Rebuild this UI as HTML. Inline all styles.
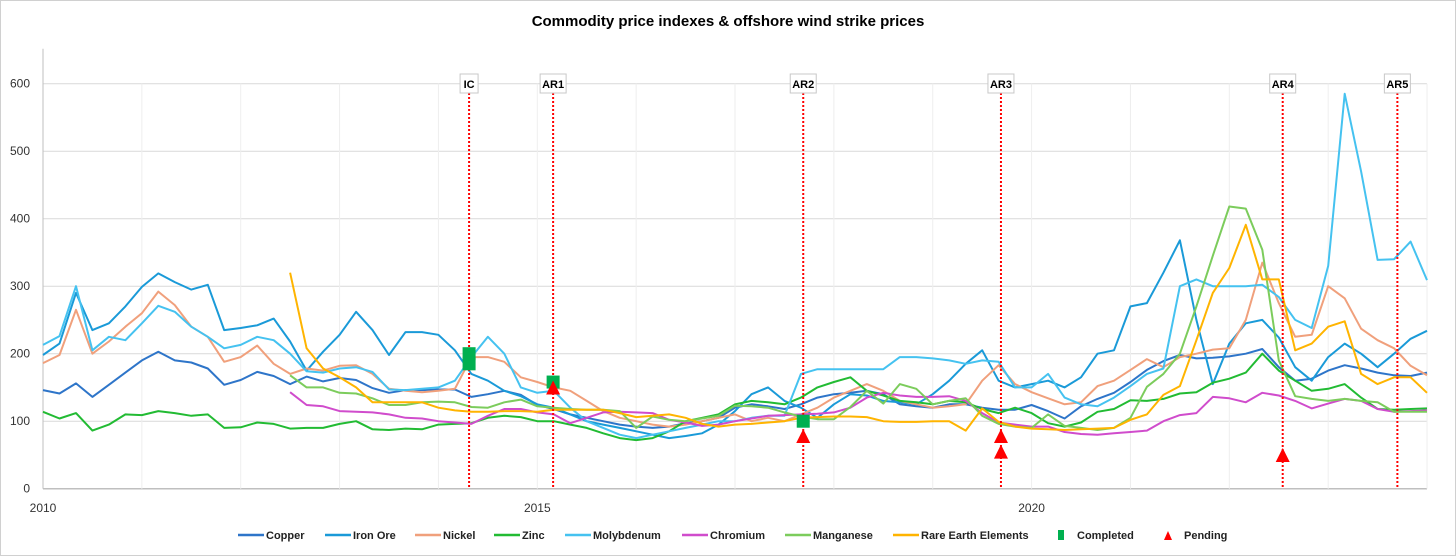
<!DOCTYPE html>
<html><head><meta charset="utf-8"><style>
body{margin:0;background:#fff;}
svg{display:block;font-family:"Liberation Sans",Arial,sans-serif;}
</style></head><body>
<svg id="chart" width="1456" height="556" viewBox="0 0 1456 556">
<rect x="0.5" y="0.5" width="1455" height="555" fill="#fff" stroke="#d0d0d0"/>
<text x="728" y="26" text-anchor="middle" font-size="15" font-weight="bold" fill="#000">Commodity price indexes &amp; offshore wind strike prices</text>
<g id="grid"></g><g id="series"></g><g id="events"></g><g id="legend"></g>
</svg>
<script>
const yTicks=[0,100,200,300,400,500,600];
const xTickYears=[2010,2015,2020];
const copper=[146,141,156,136,154,172,190,203,190,187,178,154,161,173,167,155,166,159,164,161,149,142,146,146,147,147,136,140,145,139,124,118,110,105,100,95,92,90,92,97,100,105,120,125,122,118,125,135,140,142,145,140,125,122,120,125,125,120,117,117,124,115,104,122,133,142,158,176,189,198,193,194,196,200,207,180,160,163,175,183,178,172,168,167,172];
const ironOre=[198,215,290,235,245,270,299,319,306,295,302,235,238,242,252,218,175,203,228,262,235,198,232,232,228,205,170,160,145,137,125,120,110,100,95,90,85,80,75,78,82,95,115,140,150,130,120,105,125,140,138,130,128,125,140,160,185,205,160,150,155,160,150,165,200,205,270,275,320,368,250,155,215,245,250,224,180,160,195,215,200,180,200,222,234];
const nickel=[186,198,265,200,218,240,260,292,272,240,225,188,195,212,185,170,178,175,182,183,170,148,145,143,145,148,195,195,188,165,158,150,145,130,115,105,100,95,92,95,100,105,110,100,105,100,110,120,135,145,155,145,130,125,120,122,125,160,183,155,143,134,125,128,152,160,176,192,180,195,200,206,208,250,335,275,225,228,300,282,237,220,208,182,168];
const zinc=[114,104,112,86,95,110,109,115,112,108,110,90,91,98,96,89,90,90,96,100,88,87,89,88,95,96,97,105,108,106,100,100,95,90,82,75,72,75,85,100,105,110,125,130,128,125,135,150,158,165,145,138,130,128,125,130,128,118,112,120,112,97,92,98,114,118,131,130,133,141,143,157,163,172,200,175,160,145,148,155,135,118,117,118,119];
const molybdenum=[213,226,300,205,225,220,245,271,262,240,225,208,213,225,220,200,174,172,178,180,173,147,146,148,150,160,195,225,200,150,142,145,120,100,90,80,75,80,85,90,95,100,100,105,108,108,170,177,177,177,177,177,195,195,193,190,185,190,188,150,150,170,135,125,122,135,152,170,178,300,310,300,300,300,302,284,250,238,330,585,470,339,340,366,309];
const chromium=[null,null,null,null,null,null,null,null,null,null,null,null,null,null,null,143,124,122,115,114,113,110,105,104,100,98,96,108,118,118,113,110,97,105,113,114,113,112,102,98,93,95,100,104,108,109,110,111,113,120,135,142,138,136,136,137,130,112,98,95,92,92,84,81,80,82,84,86,100,109,112,136,134,128,142,138,130,119,126,133,130,118,114,115,116];
const manganese=[null,null,null,null,null,null,null,null,null,null,null,null,null,null,null,168,150,150,142,141,134,124,124,128,129,128,121,120,128,132,122,120,118,117,117,115,90,107,102,100,104,108,123,122,120,113,107,103,103,121,145,126,155,148,125,130,134,108,96,92,90,110,93,90,87,90,105,151,170,200,270,345,418,415,354,190,137,133,130,133,130,128,114,114,114];
const rareEarth=[null,null,null,null,null,null,null,null,null,null,null,null,null,null,null,320,208,178,165,150,128,128,128,128,120,116,114,114,115,115,114,117,117,117,117,112,106,108,110,105,96,92,95,96,98,100,105,106,107,107,106,100,99,99,100,100,86,119,99,92,89,88,87,88,89,90,102,110,139,152,220,290,327,391,310,310,205,215,240,248,170,155,165,165,142];
const roundNames=["IC","AR1","AR2","AR3","AR4","AR5"];
const roundDates=[2014.31,2015.16,2017.69,2019.69,2022.54,2023.7];
const completedDates=[2014.31,2014.31,2015.16,2017.69];
const completedValues=[185,200,158,100];
const pendingDates=[2015.16,2017.69,2019.69,2019.69,2022.54];
const pendingValues=[150,78,78,55,50];

const X0=43,X1=1427,Y0=488.7,YS=0.675,PXY=98.86;
const xT=t=>X0+(t-2010)*PXY;
const xI=i=>xT(2010+i/6);
const yV=v=>Y0-v*YS;
const NS="http://www.w3.org/2000/svg";
function mk(tag,parent,attrs){const e=document.createElementNS(NS,tag);for(const k in attrs)e.setAttribute(k,attrs[k]);parent.appendChild(e);return e;}
const grid=document.getElementById('grid');
for(const v of yTicks){
  const l=mk('line',grid,{x1:X0,x2:X1,y1:yV(v),y2:yV(v),stroke:v===0?'#bfbfbf':'#d9d9d9','stroke-width':v===0?1.5:1});
  
  
  const t=mk('text',grid,{x:30,y:yV(v)+4,'text-anchor':'end','font-size':12,fill:'#333'});
  t.textContent=v;
  
  
}
for(let yr=2011;yr<=2024;yr++){
  const l=mk('line',grid,{x1:xT(yr),x2:xT(yr),y1:yV(600),y2:Y0,stroke:'#eeeeee','stroke-width':1});
  
  
}
const ax=mk('line',grid,{x1:X0,x2:X0,y1:yV(600)-35,y2:Y0,stroke:'#bfbfbf','stroke-width':1});


for(const yr of xTickYears){
  const t=mk('text',grid,{x:xT(yr),y:512,'text-anchor':'middle','font-size':12,fill:'#333'});
  t.textContent=yr;
  
  
}
const seriesDefs=[["copper",copper,"#2e75c9"],["iron-ore",ironOre,"#1a9ad8"],["nickel",nickel,"#f0a07c"],["zinc",zinc,"#22bb33"],["molybdenum",molybdenum,"#45c2f0"],["chromium",chromium,"#d04ccc"],["manganese",manganese,"#7ccc5c"],["rare-earth",rareEarth,"#ffb400"]];
const sg=document.getElementById('series');
for(const [name,arr,col] of seriesDefs){
  let d='';let pen=false;
  arr.forEach((v,i)=>{if(v==null){pen=false;return;}d+=(pen?'L':'M')+xI(i).toFixed(1)+','+yV(v).toFixed(1);pen=true;});
  const p=mk('path',sg,{d:d,fill:'none',stroke:col,'stroke-width':2,'stroke-linejoin':'round'});
  
  
}
const ev=document.getElementById('events');
roundNames.forEach((n,i)=>{
  const x=xT(roundDates[i]);
  const l=mk('line',ev,{x1:x,x2:x,y1:93,y2:Y0,stroke:'#ff0000','stroke-width':2,'stroke-dasharray':'2,2'});
  
  
  const w=n.length>2?26:18;
  const b=mk('rect',ev,{x:x-w/2,y:74,width:w,height:19,fill:'#fff',stroke:'#c8c8c8'});
  
  
  const t=mk('text',ev,{x:x,y:88,'text-anchor':'middle','font-size':11,'font-weight':'bold',fill:'#000'});
  t.textContent=n;
  
  
});
completedDates.forEach((d,i)=>{
  const x=xT(d),y=yV(completedValues[i]);
  const r=mk('rect',ev,{x:x-6.5,y:y-6.5,width:13,height:13,fill:'#00b050'});
  
  
});
pendingDates.forEach((d,i)=>{
  const x=xT(d),y=yV(pendingValues[i]);
  const p=mk('polygon',ev,{points:`${x-7},${y+7} ${x+7},${y+7} ${x},${y-7}`,fill:'#ff0000'});
  
  
});
const lg=document.getElementById('legend');
const legendItems=[["Copper","#2e75c9",238],["Iron Ore","#1a9ad8",325],["Nickel","#f0a07c",415],["Zinc","#22bb33",494],["Molybdenum","#45c2f0",565],["Chromium","#d04ccc",682],["Manganese","#7ccc5c",785],["Rare Earth Elements","#ffb400",893]];
for(const [n,c,x] of legendItems){
  const l=mk('line',lg,{x1:x,x2:x+26,y1:535,y2:535,stroke:c,'stroke-width':2.5});
  
  
  const t=mk('text',lg,{x:x+28,y:539,'font-size':11,'font-weight':'bold',fill:'#222'});
  t.textContent=n;
  
  
}
const cs=mk('rect',lg,{x:1058,y:530,width:6,height:10,fill:'#00b050'});


const ct=mk('text',lg,{x:1077,y:539,'font-size':11,'font-weight':'bold',fill:'#222'});
ct.textContent='Completed';


const ps=mk('polygon',lg,{points:'1164,540 1172,540 1168,531',fill:'#ff0000'});


const pt=mk('text',lg,{x:1184,y:539,'font-size':11,'font-weight':'bold',fill:'#222'});
pt.textContent='Pending';


</script>
</body></html>
